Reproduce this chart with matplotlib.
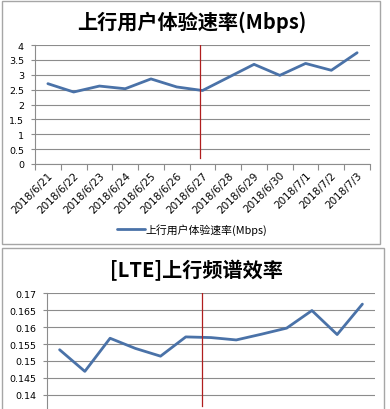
import numpy as np
import matplotlib
matplotlib.use("Agg")
import matplotlib.pyplot as plt
from matplotlib.patches import Rectangle

plt.rcParams["font.family"] = ["Noto Sans CJK SC", "DejaVu Sans"]

dates = ["2018/6/21", "2018/6/22", "2018/6/23", "2018/6/24", "2018/6/25",
         "2018/6/26", "2018/6/27", "2018/6/28", "2018/6/29", "2018/6/30",
         "2018/7/1", "2018/7/2", "2018/7/3"]
speed = [2.70, 2.42, 2.62, 2.53, 2.86, 2.59, 2.47, 2.91, 3.35, 2.98, 3.38, 3.15, 3.74]
spec_eff = [0.1533, 0.1469, 0.1567, 0.1537, 0.1514, 0.1571, 0.1569, 0.1562,
            0.1579, 0.1597, 0.1649, 0.1578, 0.1668]

top_title = "上行用户体验速率(Mbps)"
bottom_title = "[LTE]上行频谱效率"
series_name = "上行用户体验速率(Mbps)"
top_yticks = ["0", "0.5", "1", "1.5", "2", "2.5", "3", "3.5", "4"]
# the two lowest labels of the lower chart fall below the picture edge
bottom_yticks = ["", "", "0.14", "0.145", "0.15", "0.155", "0.16", "0.165", "0.17"]

LINE = "#4a72a8"
GRID = "#8c8c8c"
RED = "#b01e1e"
TICK_FONT = "DejaVu Sans"
W, H = 390, 410


def px_axes(fig, x0, y0, x1, y1):
    # pixel box (top-left origin) -> figure fraction
    return fig.add_axes([x0 / W, 1 - y1 / H, (x1 - x0) / W, (y1 - y0) / H])


def style_axes(ax, n):
    ax.set_xlim(-0.5, n - 0.5)
    for s in ["top", "right"]:
        ax.spines[s].set_visible(False)
    ax.spines["left"].set_color(GRID)
    ax.spines["bottom"].set_color(GRID)
    ax.spines["left"].set_linewidth(0.8)
    ax.spines["bottom"].set_linewidth(0.8)
    ax.grid(axis="y", color=GRID, linewidth=0.8)
    ax.set_axisbelow(True)
    ax.tick_params(axis="y", length=3, color=GRID, labelsize=6.8, pad=5)
    ax.set_xticks(np.arange(n + 1) - 0.5)
    ax.set_xticklabels([])
    ax.tick_params(axis="x", which="major", length=4, color=GRID)


fig = plt.figure(figsize=(W / 100, H / 100), dpi=100)

# chart frames
fig.patches.append(Rectangle((2 / W, 1 - 245 / H), 378 / W, 243 / H, transform=fig.transFigure,
                             fill=False, edgecolor="#a6a6a6", linewidth=1))
fig.patches.append(Rectangle((2 / W, -0.05), 382 / W, 0.05 + (1 - 249 / H), transform=fig.transFigure,
                             fill=False, edgecolor="#a6a6a6", linewidth=1))

x = np.arange(len(dates))

# top chart
ax1 = px_axes(fig, 35, 46, 370, 165)
style_axes(ax1, len(dates))
ax1.set_ylim(0, 4)
ax1.set_yticks(np.arange(0, 4.01, 0.5))
ax1.set_yticklabels(top_yticks, family=TICK_FONT)
ax1.plot(x, speed, color=LINE, linewidth=2, label=series_name, solid_capstyle="round")
ax1.plot([5.9, 5.9], [0.2, 4], color=RED, linewidth=0.9)
ax1.set_xticks(x, minor=True)
ax1.set_xticklabels(dates, minor=True, rotation=45, ha="right", rotation_mode="anchor",
                    fontsize=7.5, family=TICK_FONT)
ax1.tick_params(axis="x", which="minor", length=0, pad=4)
fig.text(192 / W, 1 - 22 / H, top_title, ha="center", va="center", fontsize=14.5, fontweight="bold")
ax1.legend(loc="center", bbox_to_anchor=(192 / W, 1 - 230 / H), bbox_transform=fig.transFigure,
           frameon=False, fontsize=7.8, handlelength=2.6, handletextpad=0.1)

# bottom chart
ax2 = px_axes(fig, 47, 294.3, 375, 294.3 + 16.9 * 8)
style_axes(ax2, len(dates))
ax2.set_ylim(0.13, 0.17)
ax2.set_yticks(np.arange(0.13, 0.1701, 0.005))
ax2.set_yticklabels(bottom_yticks, family=TICK_FONT)
ax2.plot(x, spec_eff, color=LINE, linewidth=2, solid_capstyle="round")
ax2.plot([5.66, 5.66], [0.1367, 0.17], color=RED, linewidth=0.9)
fig.text(196 / W, 1 - 270 / H, bottom_title, ha="center", va="center", fontsize=14.5, fontweight="bold")

fig.savefig("out.png", dpi=100)
